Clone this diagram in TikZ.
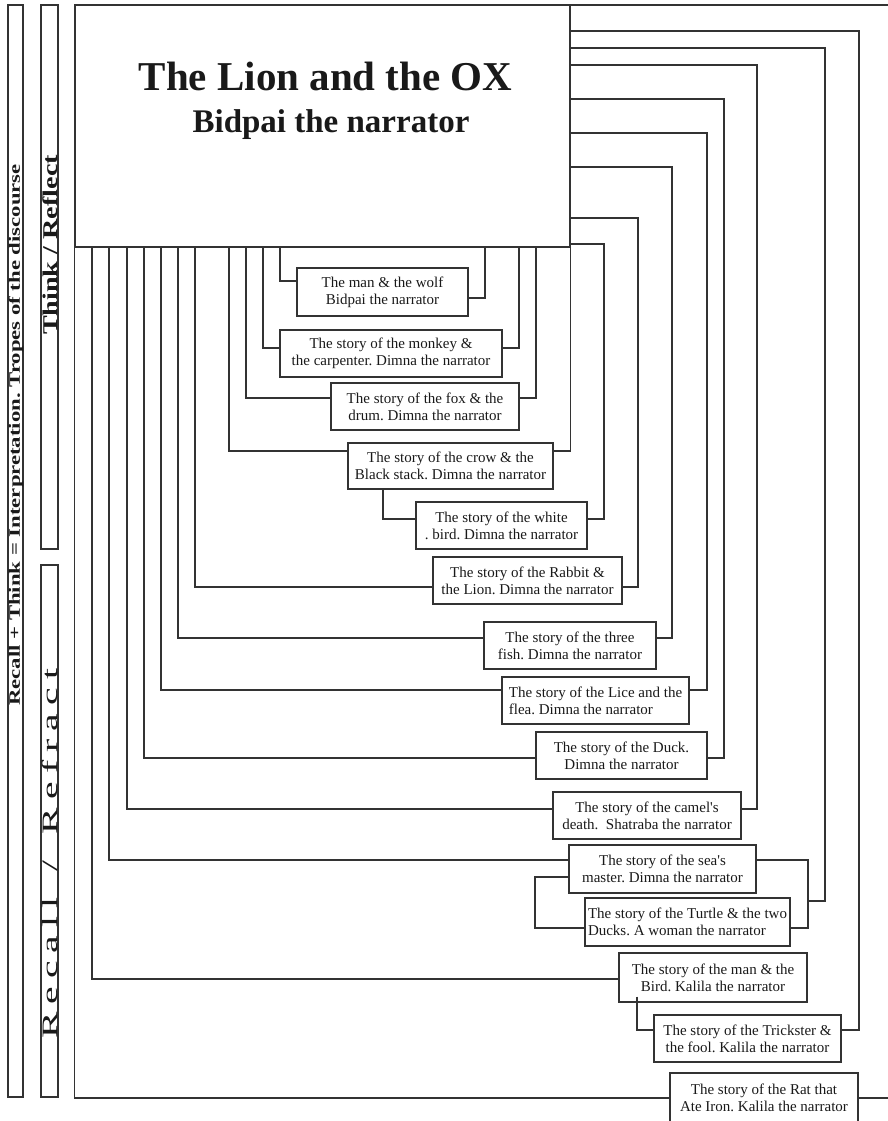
\documentclass[tikz,border=0pt]{standalone}
\usepackage{fontspec}
\setmainfont{Liberation Serif}
\usepackage{graphicx}
\newcommand\lsk{\kern 4.5pt}
\begin{document}
\frenchspacing
\begin{tikzpicture}[x=1pt,y=-1pt,
  ln/.style={line width=1.2pt, draw=black!80},
  bar/.style={draw=black!80, line width=1.2pt},
  storybox/.style={draw=black!80, line width=1.2pt, inner sep=0pt, font=\fontsize{15}{17}\selectfont\frenchspacing, align=center, text=black!90},
  leftbox/.style={storybox, align=left},
]
\useasboundingbox (0,0) rectangle (887,1121);

% left bars
\node[bar, minimum width=15pt, minimum height=1092pt, inner sep=0pt] (outerbar) at (15.5,551) {};
\node[bar, minimum width=17pt, minimum height=544pt, inner sep=0pt] (thinkbar) at (49.5,277) {};
\node[bar, minimum width=17pt, minimum height=532pt, inner sep=0pt] (recallbar) at (49.5,831) {};
\node[rotate=90, inner sep=0pt, text=black!90] (trope) at (16,435) {\scalebox{1.42}[1]{\fontsize{16}{16}\selectfont\bfseries Recall + Think = Interpretation. Tropes of the discourse}};
\node[rotate=90, inner sep=0pt, text=black!90] (think) at (50,245) {\scalebox{1.34}[1]{\fontsize{21}{21}\selectfont\bfseries Think / Reflect}};
\node[rotate=90, inner sep=0pt, text=black!90] (recall) at (50,854) {\scalebox{1.8}[1]{\fontsize{22}{22}\selectfont R\lsk e\lsk c\lsk a\lsk l\lsk l\lsk\ \lsk/\lsk\ \lsk R\lsk e\lsk f\lsk r\lsk a\lsk c\lsk t}};

% main box
\node[draw=black!80, line width=1.2pt, minimum width=495pt, minimum height=242pt, inner sep=0pt] (main) at (322.5,126) {};
\node[anchor=base, inner sep=0pt, font=\fontsize{41}{41}\selectfont\bfseries, text=black!90] (title) at (325.5,91) {The Lion and the OX};
\node[anchor=base, inner sep=0pt, font=\fontsize{33}{33}\selectfont\bfseries, text=black!90] (subtitle) at (331,132) {Bidpai the narrator};

% story boxes
\node[storybox, minimum width=171pt, minimum height=48pt] (wolf) at (382.5,292) {The man \& the wolf\\Bidpai the narrator};
\node[storybox, minimum width=222pt, minimum height=47pt] (monkey) at (391,353.5) {The story of the monkey \&\\the carpenter. Dimna the narrator};
\node[storybox, minimum width=188pt, minimum height=47pt] (fox) at (425,406.5) {The story of the fox \& the\\drum. Dimna the narrator};
\node[storybox, minimum width=205pt, minimum height=46pt] (crow) at (450.5,466) {The story of the crow \& the\\Black stack. Dimna the narrator};
\node[storybox, minimum width=171pt, minimum height=47pt] (white) at (501.5,525.5) {The story of the white\\. bird. Dimna the narrator};
\node[storybox, minimum width=189pt, minimum height=47pt] (rabbit) at (527.5,580.5) {The story of the Rabbit \&\\the Lion. Dimna the narrator};
\node[storybox, minimum width=172pt, minimum height=47pt] (fish) at (570,645.5) {The story of the three\\fish. Dimna the narrator};
\node[leftbox, minimum width=187pt, minimum height=47pt] (lice) at (595.5,700.5) {The story of the Lice and the\\flea. Dimna the narrator};
\node[storybox, minimum width=171pt, minimum height=47pt] (duck) at (621.5,755.5) {The story of the Duck.\\Dimna the narrator};
\node[storybox, minimum width=188pt, minimum height=47pt] (camel) at (647,815.5) {The story of the camel\textquotesingle s\\death.\ \ Shatraba the narrator};
\node[storybox, minimum width=187pt, minimum height=48pt] (sea) at (662.5,869) {The story of the sea\textquotesingle s\\master. Dimna the narrator};
\node[leftbox, minimum width=205pt, minimum height=48pt] (turtle) at (687.5,922) {The story of the Turtle \& the two\\Ducks. A woman the narrator};
\node[storybox, minimum width=188pt, minimum height=49pt] (bird) at (713,977.5) {The story of the man \& the\\Bird. Kalila the narrator};
\node[storybox, minimum width=187pt, minimum height=47pt] (trick) at (747.5,1038.5) {The story of the Trickster \&\\the fool. Kalila the narrator};
\node[storybox, minimum width=188pt, minimum height=49pt] (rat) at (764,1097.5) {The story of the Rat that\\Ate Iron. Kalila the narrator};

% left-side connectors from the bottom of the main box
\draw[ln] (main.south -| 280,0) |- (wolf.west |- 0,281);
\draw[ln] (main.south -| 263,0) |- (monkey.west |- 0,348);
\draw[ln] (main.south -| 246,0) |- (fox.west |- 0,398);
\draw[ln] (main.south -| 229,0) |- (crow.west |- 0,451);
\draw[ln] (main.south -| 195,0) |- (rabbit.west |- 0,587);
\draw[ln] (main.south -| 178,0) |- (fish.west |- 0,638);
\draw[ln] (main.south -| 161,0) |- (lice.west |- 0,690);
\draw[ln] (main.south -| 144,0) |- (duck.west |- 0,758);
\draw[ln] (main.south -| 127,0) |- (camel.west |- 0,809);
\draw[ln] (main.south -| 109,0) |- (sea.west |- 0,860);
\draw[ln] (main.south -| 92,0) |- (bird.west |- 0,979);
\draw[ln] (main.south west) |- (rat.west |- 0,1098);

% right-side connectors to the bottom of the main box
\draw[ln] (wolf.east |- 0,298) -| (main.south -| 485,0);
\draw[ln] (monkey.east |- 0,348) -| (main.south -| 519,0);
\draw[ln] (fox.east |- 0,398) -| (main.south -| 536,0);
\draw[ln] (crow.east |- 0,451) -| (main.south east);

% right-side connectors to the right edge of the main box
\draw[ln] (white.east |- 0,519) -| (604,244) -- (main.east |- 0,244);
\draw[ln] (rabbit.east |- 0,587) -| (638,218) -- (main.east |- 0,218);
\draw[ln] (fish.east |- 0,638) -| (672,167) -- (main.east |- 0,167);
\draw[ln] (lice.east |- 0,690) -| (707,133) -- (main.east |- 0,133);
\draw[ln] (duck.east |- 0,758) -| (724,99) -- (main.east |- 0,99);
\draw[ln] (camel.east |- 0,809) -| (757,65) -- (main.east |- 0,65);
\draw[ln] (trick.east |- 0,1030) -| (859,31) -- (main.east |- 0,31);
\draw[ln] (rat.east |- 0,1098) -| (890,5) -- (main.north east |- 0,5);

% sea's master / turtle bracket
\coordinate (seaT) at (808,901);
\draw[ln] (sea.east |- 0,860) -| (808,928) -- (turtle.east |- 0,928);
\draw[ln] (main.east |- 0,48) -| (825,901) -- (seaT);
\draw[ln] (sea.west |- 0,877) -| (535,928) -- (turtle.west |- 0,928);

% nested stories
\draw[ln] (crow.south -| 383,0) |- (white.west |- 0,519);
\draw[ln] ([yshift=6pt]bird.south -| 637,0) |- (trick.west |- 0,1030);
\end{tikzpicture}
\end{document}
